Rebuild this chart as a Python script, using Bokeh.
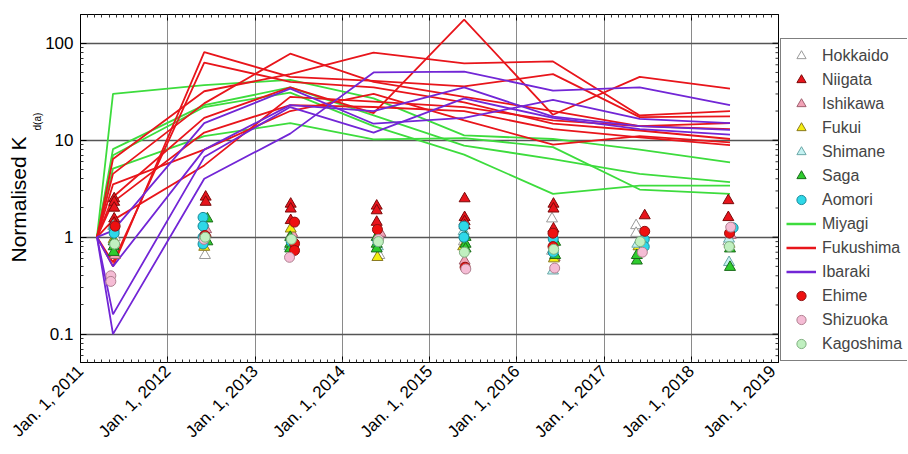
import pandas as pd
from math import pi
from bokeh.plotting import figure
from bokeh.layouts import row
from bokeh.models import (Range1d, FixedTicker, DatetimeAxis, Legend,
                          LegendItem, Title, ColumnDataSource)
from bokeh.embed import file_html
from bokeh.resources import INLINE

# ---------------- data ----------------
YEARS = list(range(2011, 2020))
TICK_LABELS = [f"Jan. 1, {y}" for y in YEARS]

LINE_DATES = ["2011-03-11", "2011-05-17", "2012-06-02", "2013-05-28", "2014-05-12",
              "2015-05-26", "2016-06-01", "2017-05-30", "2018-06-12"]

MIYAGI = [
    [1, 30, 37, 42, 27, 11.2, 10.3, 8.0, 5.9],
    [1, 8.1, 23, 35, 18, 8.8, 6.4, 4.5, 3.7],
    [1, 7.0, 22, 31, 14, 7.1, 2.8, 3.4, 3.4],
    [1, 5.1, 11, 15, 10.2, 10.5, 8.5, 3.1, 2.8],
]
FUKUSHIMA = [
    [1, 0.5, 81, 45, 41, 36, 48, 17.3, 17.6],
    [1, 0.55, 63, 40, 35, 24.6, 14.8, 12.6, 10.3],
    [1, 6.4, 32, 48, 80, 62, 65, 18, 20],
    [1, 4.5, 24, 78, 40, 28, 20, 14, 13],
    [1, 2.6, 17, 35, 19, 175, 18.3, 45, 34],
    [1, 2.3, 12, 23, 22, 20, 13, 10.7, 8.9],
    [1, 3.5, 8, 20, 30, 16, 9, 11, 9.5],
    [1, 1.5, 5.5, 28, 25, 22, 16, 14, 15],
]
IBARAKI = [
    [1, 1.17, 15, 34, 14.8, 17, 26, 16.6, 15],
    [1, 0.5, 8, 23, 20, 35, 17.5, 14, 12.8],
    [1, 0.16, 6.7, 22, 12, 27, 17, 13, 11.4],
    [1, 0.1, 4, 11.7, 50, 51, 32.5, 35, 23],
]

HOKKAIDO_DATES = ["2011-05-25", "2012-06-05", "2013-06-08", "2014-06-05", "2015-05-25", "2016-05-28", "2017-05-15", "2018-06-05"]
HOKKAIDO_VALUES = [[1.0], [0.65], [0.95], [1.13, 0.65], [0.9], [1.55, 0.72], [1.32, 1.1], [0.9]]
NIIGATA_DATES = ["2011-05-22", "2012-06-08", "2013-05-30", "2014-05-25", "2015-05-28", "2016-06-03", "2017-06-20", "2018-06-05"]
NIIGATA_VALUES = [[2.5, 2.3, 2.0, 1.55, 1.4], [2.6, 2.3, 1.1], [2.2, 1.96, 1.49], [2.1, 1.88, 1.43],
                  [2.5, 1.6, 1.45, 1.32], [2.2, 1.96, 1.22], [1.67], [2.39, 1.6]]
ISHIKAWA_DATES = ["2011-05-25", "2012-06-10", "2013-06-05", "2014-06-10", "2015-05-28", "2016-06-08", "2017-06-05", "2018-06-15"]
ISHIKAWA_VALUES = [[0.65], [1.2], [1.1], [1.1], [0.57], [0.62], [0.75], [1.05]]
FUKUI_DATES = ["2011-05-20", "2012-06-02", "2013-05-30", "2014-05-28", "2015-05-22", "2016-06-05", "2017-05-25", "2018-06-10"]
FUKUI_VALUES = [[0.95], [0.79], [1.22], [0.62], [0.8], [0.6], [0.8], [0.85]]
SHIMANE_DATES = ["2011-05-18", "2012-05-30", "2013-05-25", "2014-05-30", "2015-05-24", "2016-06-01", "2017-05-20", "2018-06-08"]
SHIMANE_VALUES = [[1.3], [1.4], [0.8], [0.8], [1.15], [0.45], [0.85], [0.96, 0.55]]
SAGA_DATES = ["2011-05-20", "2012-06-15", "2013-05-28", "2014-05-25", "2015-06-01", "2016-06-10", "2017-05-18", "2018-06-12"]
SAGA_VALUES = [[0.9, 0.8, 0.7], [1.55, 0.9], [1.0, 0.85, 0.76], [1.0, 0.85, 0.76], [1.0, 0.85, 0.76],
               [0.89, 0.65], [0.57, 0.65], [0.76, 0.49]]
AOMORI_DATES = ["2011-05-22", "2012-05-28", "2013-06-01", "2014-05-30", "2015-05-25", "2016-06-02", "2017-06-18", "2018-06-25"]
AOMORI_VALUES = [[1.2, 1.1], [1.6, 1.3, 1.0, 0.85], [0.9], [0.9], [1.3, 1.0], [0.96, 0.7], [0.95, 0.8], [1.25]]
EHIME_DATES = ["2011-05-26", "2012-06-05", "2013-06-15", "2014-05-28", "2015-05-30", "2016-06-01", "2017-06-20", "2018-06-10"]
EHIME_VALUES = [[1.3], [1.04], [1.43, 0.86, 0.73], [1.2], [0.49], [1.1, 0.8], [1.15], [1.1]]
SHIZUOKA_DATES = ["2011-05-08", "2012-06-01", "2013-05-25", "2014-06-02", "2015-06-02", "2016-06-08", "2017-06-10", "2018-06-15"]
SHIZUOKA_VALUES = [[0.4, 0.35], [0.95], [0.62], [0.95], [0.47], [0.48], [0.7], [1.27]]
KAGOSHIMA_DATES = ["2011-05-24", "2012-06-06", "2013-06-02", "2014-06-01", "2015-05-27", "2016-06-04", "2017-06-01", "2018-06-09"]
KAGOSHIMA_VALUES = [[0.85], [1.0], [0.95], [0.9], [0.7], [0.75], [0.9], [0.8]]


def ms(d):
    return pd.Timestamp(d).value / 1e6


def flat(dates, vals):
    xs, ys = [], []
    for d, vs in zip(dates, vals):
        for v in vs:
            xs.append(ms(d))
            ys.append(v)
    return ColumnDataSource(dict(x=xs, y=ys))


FONT = "Liberation Sans"
X0, X1 = ms("2011-01-01"), ms("2019-01-01")
Y0, Y1 = 0.051, 198
major_x = [ms(f"{y}-01-01") for y in YEARS]
minor_x = [ms(f"{y}-{m:02d}-01") for y in range(2011, 2019) for m in range(1, 13)]
major_y = [0.1, 1, 10, 100]
minor_y = [m * 10.0 ** e for e in range(-2, 3) for m in range(2, 10)]

p = figure(y_axis_type="log", x_axis_type="datetime",
           frame_width=698, frame_height=348,
           min_border_left=80, min_border_top=14, min_border_bottom=92, min_border_right=1,
           x_range=Range1d(X0, X1), y_range=Range1d(Y0, Y1),
           output_backend="svg", toolbar_location=None)
p.outline_line_color = "black"
p.background_fill_color = "white"
p.border_fill_color = "white"

bottom = p.below[0]
left = p.left[0]

p.xgrid.grid_line_color = "#8a8a8a"
p.xgrid.grid_line_width = 1
p.ygrid.grid_line_color = "#555555"
p.ygrid.grid_line_width = 1.3

xt = FixedTicker(ticks=major_x, minor_ticks=minor_x)
yt = FixedTicker(ticks=major_y, minor_ticks=minor_y)
bottom.ticker = xt
left.ticker = yt
p.xgrid.ticker = xt
p.ygrid.ticker = yt
bottom.major_label_overrides = {t: l for t, l in zip(major_x, TICK_LABELS)}
left.major_label_overrides = {0.1: "0.1", 1: "1", 10: "10", 100: "100"}
bottom.major_label_orientation = pi / 4

top = DatetimeAxis(ticker=xt, major_label_overrides={t: "" for t in major_x})
top.major_label_text_font_size = "1px"
top.major_label_standoff = 0
p.add_layout(top, "above")

for ax in (bottom, left, top):
    ax.major_tick_in = 6
    ax.major_tick_out = 0
    ax.minor_tick_in = 3
    ax.minor_tick_out = 0
    ax.axis_line_color = "black"
    ax.major_tick_line_color = "black"
    ax.minor_tick_line_color = "#333333"
    ax.major_label_text_font = FONT
    ax.major_label_text_color = "black"
bottom.major_label_text_font_size = "17px"
left.major_label_text_font_size = "17px"
bottom.major_label_standoff = 6
left.major_label_standoff = 7

# inward ticks along the right edge of the frame
p.ray(x=[X1] * len(major_y), y=major_y, length=6, length_units="screen", angle=pi,
      line_color="black", line_width=1)
p.ray(x=[X1] * len(minor_y), y=minor_y, length=3, length_units="screen", angle=pi,
      line_color="#333333", line_width=1)

# lines
xs_line = [ms(d) for d in LINE_DATES]
LINE_STYLE = {"Miyagi": "#3ddc3d", "Fukushima": "#e8151b", "Ibaraki": "#7226d6"}
LINE_DATA = {"Miyagi": MIYAGI, "Fukushima": FUKUSHIMA, "Ibaraki": IBARAKI}
for name, series in LINE_DATA.items():
    p.multi_line(xs=[xs_line] * len(series), ys=series, line_color=LINE_STYLE[name], line_width=1.8)

TRI = 11
CIR = 10
MARKER_STYLE = {
    "Hokkaido": ("triangle", TRI, "white", "#9a9a9a"),
    "Niigata": ("triangle", TRI, "#e8141c", "#7a0a0a"),
    "Ishikawa": ("triangle", TRI, "#f2a2b6", "#a06070"),
    "Fukui": ("triangle", TRI, "#f5ee10", "#8a7a20"),
    "Shimane": ("triangle", TRI, "#c5f2f2", "#6aa8a8"),
    "Saga": ("triangle", TRI, "#2ecc2e", "#1a6a1a"),
    "Aomori": ("circle", CIR, "#2ed8e8", "#1a8a9a"),
    "Ehime": ("circle", CIR, "#ee1010", "#901010"),
    "Shizuoka": ("circle", CIR, "#f5bcd5", "#b08090"),
    "Kagoshima": ("circle", CIR, "#c0f0c0", "#80b080"),
}
MARKER_DATA = {
    "Hokkaido": (HOKKAIDO_DATES, HOKKAIDO_VALUES),
    "Niigata": (NIIGATA_DATES, NIIGATA_VALUES),
    "Ishikawa": (ISHIKAWA_DATES, ISHIKAWA_VALUES),
    "Fukui": (FUKUI_DATES, FUKUI_VALUES),
    "Shimane": (SHIMANE_DATES, SHIMANE_VALUES),
    "Saga": (SAGA_DATES, SAGA_VALUES),
    "Aomori": (AOMORI_DATES, AOMORI_VALUES),
    "Ehime": (EHIME_DATES, EHIME_VALUES),
    "Shizuoka": (SHIZUOKA_DATES, SHIZUOKA_VALUES),
    "Kagoshima": (KAGOSHIMA_DATES, KAGOSHIMA_VALUES),
}
for name, (dates, vals) in MARKER_DATA.items():
    mk, sz, fc, lc = MARKER_STYLE[name]
    p.scatter("x", "y", source=flat(dates, vals), marker=mk, size=sz, fill_color=fc, line_color=lc)

# y-axis title with a subscript: two vertical titles in the left panel
p.add_layout(Title(text="d(a)", align="left", offset=232, standoff=0,
                   text_font=FONT, text_font_size="10px", text_font_style="normal",
                   text_color="black"), "left")
p.add_layout(Title(text="Normalised K", align="left", offset=100, standoff=0,
                   text_font=FONT, text_font_size="21px", text_font_style="normal",
                   text_color="black"), "left")

# ---------------- legend (separate narrow canvas to the right) ----------------
# The legend renderers reuse the same data; they fall outside this canvas' ranges,
# so only their legend glyphs are visible.
q = figure(width=128, height=454, x_range=Range1d(0, 1), y_range=Range1d(0, 1),
           x_axis_location=None, y_axis_location=None, min_border=0,
           output_backend="svg", toolbar_location=None)
q.outline_line_color = None
q.grid.visible = False
q.background_fill_color = "white"
q.border_fill_color = "white"

ORDER = ["Hokkaido", "Niigata", "Ishikawa", "Fukui", "Shimane", "Saga", "Aomori",
         "Miyagi", "Fukushima", "Ibaraki", "Ehime", "Shizuoka", "Kagoshima"]
items = []
for name in ORDER:
    if name in LINE_STYLE:
        r = q.line(x=xs_line, y=LINE_DATA[name][0], line_color=LINE_STYLE[name], line_width=2.5)
    else:
        mk, sz, fc, lc = MARKER_STYLE[name]
        dates, vals = MARKER_DATA[name]
        r = q.scatter("x", "y", source=flat(dates, vals), marker=mk, size=sz, fill_color=fc, line_color=lc)
    items.append(LegendItem(label=name, renderers=[r]))

legend = Legend(items=items, location=(1, 1), ncols=1, margin=0, padding=5, spacing=1,
                glyph_width=30, glyph_height=23, label_standoff=6,
                label_text_font=FONT, label_text_font_size="16px",
                border_line_color="black", border_line_width=1,
                background_fill_color="white", background_fill_alpha=1)
q.add_layout(legend, "center")

layout = row(p, q, spacing=0)
open("out.html", "w").write(file_html(layout, INLINE))
